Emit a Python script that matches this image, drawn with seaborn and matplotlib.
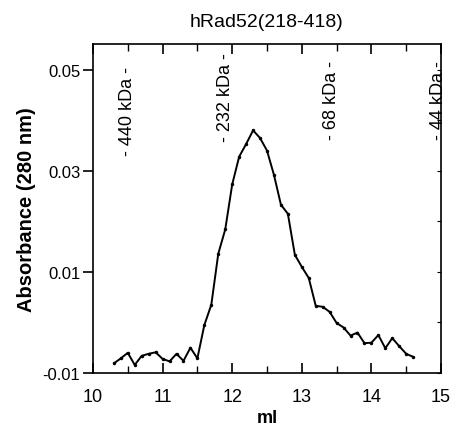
import numpy as np
import pandas as pd
import matplotlib
matplotlib.use("Agg")
import matplotlib.pyplot as plt
import seaborn as sns
from matplotlib.ticker import MultipleLocator

volume_ml = [10.3, 10.4, 10.5, 10.6, 10.7, 10.8, 10.9, 11.0, 11.1, 11.2,
             11.3, 11.4, 11.5, 11.6, 11.7, 11.8, 11.9, 12.0, 12.1, 12.2,
             12.3, 12.4, 12.5, 12.6, 12.7, 12.8, 12.9, 13.0, 13.1, 13.2,
             13.3, 13.4, 13.5, 13.6, 13.7, 13.8, 13.9, 14.0, 14.1, 14.2,
             14.3, 14.4, 14.5, 14.6]
absorbance = [-0.0081, -0.0071, -0.0060, -0.0084, -0.0066, -0.0062, -0.0059, -0.0072, -0.0077, -0.0062,
              -0.0076, -0.0050, -0.0071, -0.0005, 0.0035, 0.0136, 0.0184, 0.0273, 0.0328, 0.0353,
              0.0380, 0.0365, 0.0340, 0.0292, 0.0233, 0.0215, 0.0134, 0.0110, 0.0088, 0.0033,
              0.0031, 0.0021, -0.0001, -0.0010, -0.0026, -0.0020, -0.0041, -0.0040, -0.0025, -0.0051,
              -0.0031, -0.0047, -0.0062, -0.0068]

marker_labels = ["- 440 kDa -", "- 232 kDa -", "- 68 kDa -", "- 44 kDa -"]
marker_x = [10.49, 11.9, 13.42, 14.96]
marker_y = [0.0419, 0.0447, 0.0441, 0.0441]

x_ticks = [10, 11, 12, 13, 14, 15]
y_ticks = [-0.01, 0.01, 0.03, 0.05]
y_tick_labels = ["-0.01", "0.01", "0.03", "0.05"]

sns.set_style("ticks")
plt.rcParams['font.family'] = ['Liberation Sans', 'DejaVu Sans']
plt.rcParams['text.color'] = 'black'
plt.rcParams['axes.labelcolor'] = 'black'
plt.rcParams['xtick.color'] = 'black'
plt.rcParams['ytick.color'] = 'black'

fig = plt.figure(figsize=(4.54, 4.35), dpi=100)
ax = fig.add_axes([0.2048, 0.1402, 0.7666, 0.7564])

df = pd.DataFrame({"ml": volume_ml, "abs": absorbance})
sns.lineplot(data=df, x="ml", y="abs", ax=ax, color="black", linewidth=1.4,
             marker="o", markersize=2.5, markeredgewidth=0, markerfacecolor="black")

ax.set_xlim(10, 15)
ax.set_ylim(-0.01, 0.0551)
ax.set_xticks(x_ticks)
ax.set_xticklabels([str(t) for t in x_ticks])
ax.xaxis.set_minor_locator(MultipleLocator(0.5))
ax.set_yticks(y_ticks)
ax.set_yticklabels(y_tick_labels)

ax.tick_params(axis='x', which='major', direction='in', top=True, bottom=True,
               length=7, width=1.2, labelsize=13, pad=11, colors='black')
ax.tick_params(axis='x', which='minor', direction='in', top=True, bottom=True,
               length=5, width=1.0, colors='black')
ax.tick_params(axis='y', which='major', direction='out', left=True, right=False,
               length=7, width=1.2, labelsize=12, pad=2, colors='black')

# short inward ticks along the right edge
ax2 = ax.twinx()
ax2.set_ylim(ax.get_ylim())
ax2.yaxis.set_major_locator(MultipleLocator(0.01))
ax2.tick_params(axis='y', direction='in', length=3, width=0.8, labelright=False,
                right=True, colors='black')
for s in ax2.spines.values():
    s.set_visible(False)

for s in ax.spines.values():
    s.set_linewidth(1.2)
    s.set_color('black')

for lab, xx, yy in zip(marker_labels, marker_x, marker_y):
    ax.text(xx, yy, lab, rotation=90, ha='center', va='center', fontsize=13, color='black')

ax.set_xlabel("ml", fontsize=13, fontweight='bold', labelpad=3, color='black')
ax.set_ylabel("Absorbance (280 nm)", fontsize=14.5, fontweight='bold', labelpad=5, color='black')
ax.set_title("hRad52(218-418)", fontsize=14, pad=13, color='black')

fig.savefig("out.png", dpi=100)
